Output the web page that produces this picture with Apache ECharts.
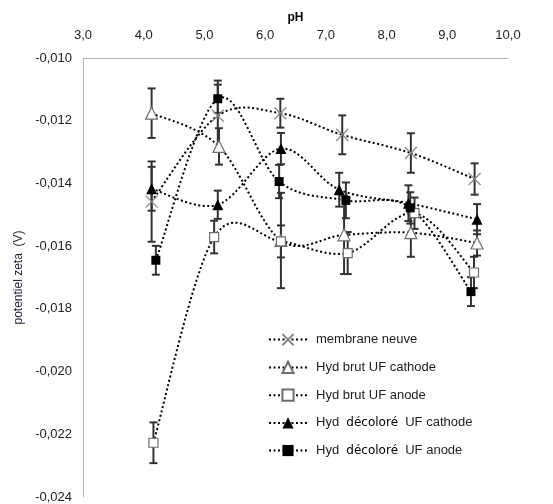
<!DOCTYPE html>
<html>
<head>
<meta charset="utf-8">
<script src="https://cdn.jsdelivr.net/npm/echarts@6/dist/echarts.min.js"></script>
<style>
  html, body { margin: 0; padding: 0; background: #fff; }
  #chart { width: 553px; height: 504px; }
</style>
</head>
<body>
<div id="chart"></div>
<script>
// Zeta potential (V) versus pH, mean values and standard deviations
const seriesNames = [
  'membrane neuve',
  'Hyd brut UF cathode',
  'Hyd brut UF anode',
  'Hyd décoloré UF cathode',
  'Hyd décoloré UF anode'
];

const phMembrane = [4.13, 5.22, 6.25, 7.27, 8.40, 9.45];
const zetaMembrane = [-0.01458, -0.01184, -0.01176, -0.01245, -0.01303, -0.01386];
const errMembrane = [0.00128, 0.00112, 0.00046, 0.00062, 0.00063, 0.00050];

const phBrutCathode = [4.13, 5.24, 6.26, 7.30, 8.40, 9.49];
const zetaBrutCathode = [-0.01176, -0.01282, -0.01582, -0.01564, -0.01557, -0.01590];
const errBrutCathode = [0.00079, 0.00058, 0.00152, 0.00125, 0.00077, 0.00040];

const phBrutAnode = [4.16, 5.16, 6.26, 7.36, 8.46, 9.44];
const zetaBrutAnode = [-0.02227, -0.01571, -0.01585, -0.01622, -0.01495, -0.01684];
const errBrutAnode = [0.00065, 0.00052, 0.00051, 0.00067, 0.00050, 0.00050];

const phDecCathode = [4.13, 5.22, 6.26, 7.22, 8.36, 9.49];
const zetaDecCathode = [-0.01417, -0.01468, -0.01289, -0.01420, -0.01463, -0.01514];
const errDecCathode = [0.00070, 0.00045, 0.00050, 0.00054, 0.00057, 0.00048];

const phDecAnode = [4.20, 5.22, 6.23, 7.33, 8.39, 9.39];
const zetaDecAnode = [-0.01645, -0.01130, -0.01394, -0.01454, -0.01478, -0.01745];
const errDecAnode = [0.00046, 0.00045, 0.00053, 0.00057, 0.00050, 0.00046];

const xTicks = { min: 3, max: 10, interval: 1 };
const yTicks = { min: -0.024, max: -0.010, interval: 0.002 };

const groups = [
  { ph: phMembrane, zeta: zetaMembrane, err: errMembrane,
    symbol: 'path://M0,0L10,10M10,0L0,10', size: 12,
    item: { color: 'rgba(0,0,0,0)', borderColor: '#8a8a8a', borderWidth: 1.3 } },
  { ph: phBrutCathode, zeta: zetaBrutCathode, err: errBrutCathode,
    symbol: 'triangle', size: 12,
    item: { color: '#fff', borderColor: '#6e6e6e', borderWidth: 1.2 } },
  { ph: phBrutAnode, zeta: zetaBrutAnode, err: errBrutAnode,
    symbol: 'rect', size: 9,
    item: { color: '#fff', borderColor: '#6e6e6e', borderWidth: 1.2 } },
  { ph: phDecCathode, zeta: zetaDecCathode, err: errDecCathode,
    symbol: 'triangle', size: 11,
    item: { color: '#000', borderColor: '#000', borderWidth: 0 } },
  { ph: phDecAnode, zeta: zetaDecAnode, err: errDecAnode,
    symbol: 'rect', size: 9,
    item: { color: '#000', borderColor: '#000', borderWidth: 0 } }
];

const fontFamily = 'Liberation Sans, Arial, sans-serif';
const fmt = (v, d) => v.toFixed(d).replace('.', ',');
const dotted = [2, 2.5];

function errorBarRender(params, api) {
  const x = api.value(0);
  const top = api.coord([x, api.value(2)]);
  const bot = api.coord([x, api.value(1)]);
  const w = 4;
  const style = { stroke: '#333', lineWidth: 2 };
  return {
    type: 'group',
    children: [
      { type: 'line', shape: { x1: top[0], y1: top[1], x2: bot[0], y2: bot[1] }, style },
      { type: 'line', shape: { x1: top[0] - w, y1: top[1], x2: top[0] + w, y2: top[1] }, style },
      { type: 'line', shape: { x1: bot[0] - w, y1: bot[1], x2: bot[0] + w, y2: bot[1] }, style }
    ]
  };
}

// Smoothed connector: each item draws the cubic segment to the next point,
// with tangents taken from the neighbouring points (spreadsheet-style smoothing).
function makeCurveRender(g) {
  return function (params, api) {
    const i = params.dataIndex;
    const n = g.ph.length;
    if (i >= n - 1) return null;
    const pt = k => {
      const j = Math.max(0, Math.min(n - 1, k));
      return api.coord([g.ph[j], g.zeta[j]]);
    };
    const p0 = pt(i - 1), p1 = pt(i), p2 = pt(i + 1), p3 = pt(i + 2);
    const t = 1 / 6;
    return {
      type: 'bezierCurve',
      shape: {
        x1: p1[0], y1: p1[1], x2: p2[0], y2: p2[1],
        cpx1: p1[0] + (p2[0] - p0[0]) * t, cpy1: p1[1] + (p2[1] - p0[1]) * t,
        cpx2: p2[0] - (p3[0] - p1[0]) * t, cpy2: p2[1] - (p3[1] - p1[1]) * t
      },
      style: { stroke: '#000', lineWidth: 2, lineDash: dotted, fill: null }
    };
  };
}

const series = [];
groups.forEach((g, i) => {
  series.push({
    type: 'custom',
    name: seriesNames[i] + ' (courbe)',
    renderItem: makeCurveRender(g),
    z: 1,
    silent: true,
    data: g.ph.map((p, k) => [p, g.zeta[k]])
  });
});
groups.forEach((g, i) => {
  series.push({
    type: 'custom',
    name: seriesNames[i] + ' (écart-type)',
    renderItem: errorBarRender,
    z: 2,
    silent: true,
    data: g.ph.map((p, k) => [p, g.zeta[k] - g.err[k], g.zeta[k] + g.err[k]])
  });
});
groups.forEach((g, i) => {
  series.push({
    type: 'line',
    name: seriesNames[i],
    z: 3,
    symbol: g.symbol,
    symbolSize: g.size,
    showAllSymbol: true,
    itemStyle: g.item,
    lineStyle: { opacity: 0 },
    emphasis: { disabled: true },
    data: g.ph.map((p, k) => [p, g.zeta[k]])
  });
});

const legendRich = {
  b: { fontFamily: 'DejaVu Sans, sans-serif', fontSize: 12, color: '#000', fontWeight: 'normal' }
};

const chart = echarts.init(document.getElementById('chart'), null, { renderer: 'canvas' });
chart.setOption({
  animation: false,
  backgroundColor: '#fff',
  grid: { left: 83, top: 58, right: 45, bottom: 7, containLabel: false },
  xAxis: {
    type: 'value',
    position: 'top',
    min: xTicks.min, max: xTicks.max, interval: xTicks.interval,
    name: 'pH',
    nameLocation: 'middle',
    nameGap: 34,
    nameTextStyle: { fontFamily, fontSize: 12, fontWeight: 'bold', color: '#000' },
    axisLine: { show: true, onZero: false, lineStyle: { color: '#b5b5b5', width: 1 } },
    axisTick: { show: false },
    splitLine: { show: false },
    axisLabel: { fontFamily, fontSize: 13, color: '#222', margin: 16, formatter: v => fmt(v, 1) }
  },
  yAxis: {
    type: 'value',
    min: yTicks.min, max: yTicks.max, interval: yTicks.interval,
    name: 'potentiel zeta  (V)',
    nameLocation: 'middle',
    nameGap: 53,
    nameTextStyle: { fontFamily, fontSize: 12, color: '#1c1c3a' },
    axisLine: { show: true, onZero: false, lineStyle: { color: '#b5b5b5', width: 1 } },
    axisTick: { show: false },
    splitLine: { show: false },
    axisLabel: { fontFamily, fontSize: 13, color: '#222', margin: 11, formatter: v => fmt(v, 3) }
  },
  legend: {
    data: seriesNames,
    orient: 'vertical',
    left: 268,
    top: 333,
    padding: 0,
    itemWidth: 38,
    itemHeight: 14,
    itemGap: 14.6,
    selectedMode: false,
    lineStyle: { opacity: 1, color: '#000', width: 2, type: dotted },
    textStyle: { fontFamily, fontSize: 13, color: '#222', padding: [0, 0, 0, 4], rich: legendRich },
    formatter: name => name.replace('décoloré', ' {b|décoloré} ')
  },
  series
});
</script>
</body>
</html>
